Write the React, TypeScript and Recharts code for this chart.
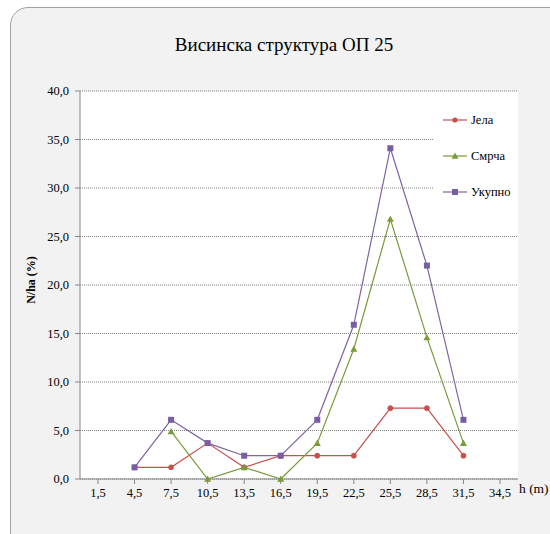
import React from 'react';
import { LineChart, Line, XAxis, YAxis, CartesianGrid, Legend } from 'recharts';

const categories = ['1,5', '4,5', '7,5', '10,5', '13,5', '16,5', '19,5', '22,5', '25,5', '28,5', '31,5', '34,5'];
const jela: (number | null)[] = [null, 1.2, 1.2, 3.7, 1.2, 2.4, 2.4, 2.4, 7.3, 7.3, 2.4, null];
const smrca: (number | null)[] = [null, null, 4.9, 0, 1.2, 0, 3.7, 13.4, 26.8, 14.6, 3.7, null];
const ukupno: (number | null)[] = [null, 1.2, 6.1, 3.7, 2.4, 2.4, 6.1, 15.9, 34.1, 22.0, 6.1, null];
const yTicks = [0, 5, 10, 15, 20, 25, 30, 35, 40];

const seriesNames = ['Јела', 'Смрча', 'Укупно'];
const colors = { jela: '#c8504c', smrca: '#789b3c', ukupno: '#8064a2' };

const data = categories.map((c, i) => ({ h: c, jela: jela[i], smrca: smrca[i], ukupno: ukupno[i] }));

const FONT = '"Liberation Serif", serif';

const DiamondDot = (props: any) => {
  const { cx, cy, value } = props;
  if (value == null || cx == null || cy == null) return null;
  return <circle cx={cx} cy={cy} r={2.6} fill={colors.jela} stroke={colors.jela} strokeWidth={0.5} />;
};
const TriangleDot = (props: any) => {
  const { cx, cy, value } = props;
  if (value == null || cx == null || cy == null) return null;
  return <path d={`M${cx},${cy - 3.5} L${cx + 3.5},${cy + 2.8} L${cx - 3.5},${cy + 2.8} Z`} fill="#7a9c3a" />;
};
const SquareDot = (props: any) => {
  const { cx, cy, value } = props;
  if (value == null || cx == null || cy == null) return null;
  return <rect x={cx - 3} y={cy - 3} width={6} height={6} fill="#7a5ea5" />;
};

const LegendIcon = ({ kind }: { kind: number }) => {
  const col = kind === 0 ? colors.jela : kind === 1 ? colors.smrca : colors.ukupno;
  return (
    <svg width={26} height={10} style={{ display: 'block' }}>
      <line x1={0} y1={5} x2={24} y2={5} stroke={col} strokeWidth={1.2} />
      {kind === 0 && <circle cx={12} cy={5} r={2.6} fill={col} />}
      {kind === 1 && <path d="M12,1.5 L15.5,7.8 L8.5,7.8 Z" fill="#7a9c3a" />}
      {kind === 2 && <rect x={9} y={2} width={6} height={6} fill="#7a5ea5" />}
    </svg>
  );
};

const renderLegend = () => (
  <div style={{ background: '#fff', width: 85, height: 118, paddingTop: 5, boxSizing: 'border-box' }}>
    {seriesNames.map((n, i) => (
      <div key={n} style={{ display: 'flex', alignItems: 'center', height: 36, paddingLeft: 10 }}>
        <LegendIcon kind={i} />
        <span style={{ fontFamily: FONT, fontSize: 12.5, color: '#000', marginLeft: 2, lineHeight: '16px' }}>{n}</span>
      </div>
    ))}
  </div>
);

const YLabel = (props: any) => {
  const vb = props.viewBox || { x: 20, y: 91, width: 60, height: 388 };
  const x = vb.x + 11;
  const y = vb.y + vb.height / 2 - 5;
  return (
    <text
      x={x}
      y={y}
      transform={`rotate(-90 ${x} ${y})`}
      textAnchor="middle"
      dominantBaseline="central"
      fontFamily={FONT}
      fontSize={12}
      fontWeight="bold"
      fill="#000"
    >
      N/ha (%)
    </text>
  );
};

export default function App() {
  return (
    <div style={{ position: 'absolute', left: 0, top: 0, width: 550, height: 534, overflow: 'hidden', background: '#fff' }}>
      <div
        style={{
          position: 'absolute',
          left: 10,
          top: 7,
          width: 580,
          height: 560,
          background: '#f2f2f2',
          border: '1px solid #a0a0a0',
          borderRadius: 18,
        }}
      />
      <div style={{ position: 'absolute', left: 0, top: 0 }}>
        <LineChart width={550} height={534} data={data} margin={{ top: 91, right: 32, bottom: 25, left: 20 }}>
          <text x={284} y={51} textAnchor="middle" fontFamily={FONT} fontSize={19} fill="#000">
            Висинска структура ОП 25
          </text>
          <CartesianGrid vertical={false} fill="#ffffff" stroke="#7f7f7f" strokeDasharray="1 1" />
          <XAxis
            dataKey="h"
            padding={{ left: 18, right: 18 }}
            axisLine={{ stroke: '#868686' }}
            tickLine={{ stroke: '#868686' }}
            tickSize={5}
            tickMargin={4}
            interval={0}
            height={30}
            tick={{ fontFamily: FONT, fontSize: 12.5, fill: '#000' }}
            label={{ value: 'h (m)', position: 'right', offset: 1, dy: -6, style: { fontFamily: FONT, fontSize: 13.5, fill: '#000' } }}
          />
          <YAxis
            domain={[0, 40]}
            ticks={yTicks}
            width={60}
            axisLine={{ stroke: '#868686' }}
            tickLine={{ stroke: '#868686' }}
            tickSize={5}
            tickMargin={6}
            tick={{ fontFamily: FONT, fontSize: 12.5, fill: '#000' }}
            tickFormatter={(v: number) => v.toFixed(1).replace('.', ',')}
            label={{ content: (p: any) => <YLabel {...p} /> }}
          />
          <Legend
            content={renderLegend}
            layout="vertical"
            align="center"
            verticalAlign="middle"
            wrapperStyle={{ position: 'absolute', left: 433, top: 97, width: 85, height: 118 }}
          />
          <Line
            type="linear"
            dataKey="jela"
            name="Јела"
            stroke={colors.jela}
            strokeWidth={1.2}
            dot={<DiamondDot />}
            activeDot={false}
            isAnimationActive={false}
          />
          <Line
            type="linear"
            dataKey="smrca"
            name="Смрча"
            stroke={colors.smrca}
            strokeWidth={1.2}
            dot={<TriangleDot />}
            activeDot={false}
            isAnimationActive={false}
          />
          <Line
            type="linear"
            dataKey="ukupno"
            name="Укупно"
            stroke={colors.ukupno}
            strokeWidth={1.2}
            dot={<SquareDot />}
            activeDot={false}
            isAnimationActive={false}
          />
        </LineChart>
      </div>
    </div>
  );
}
